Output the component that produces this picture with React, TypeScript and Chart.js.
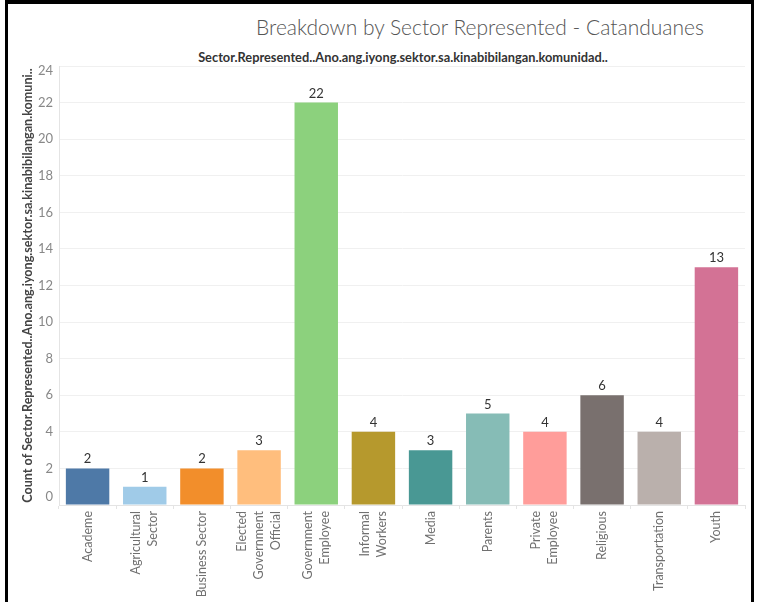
import React, { useEffect, useRef } from 'react';
import { Chart, registerables } from 'chart.js';

Chart.register(...registerables);

const categories: string[][] = [
  ['Academe'],
  ['Agricultural', 'Sector'],
  ['Business Sector'],
  ['Elected', 'Government', 'Official'],
  ['Government', 'Employee'],
  ['Informal', 'Workers'],
  ['Media'],
  ['Parents'],
  ['Private', 'Employee'],
  ['Religious'],
  ['Transportation'],
  ['Youth'],
];
const counts = [2, 1, 2, 3, 22, 4, 3, 5, 4, 6, 4, 13];
const barColors = [
  '#4e79a7', '#a0cbe8', '#f28e2b', '#ffbe7d', '#8cd17d', '#b6992d',
  '#499894', '#86bcb6', '#ff9d9a', '#79706e', '#bab0ac', '#d37295',
];
const yTickValues = [0, 2, 4, 6, 8, 10, 12, 14, 16, 18, 20, 22, 24];
const titleText = 'Breakdown by Sector Represented - Catanduanes';
const subtitleText = 'Sector.Represented..Ano.ang.iyong.sektor.sa.kinabibilangan.komunidad..';
const yAxisTitle = 'Count of Sector.Represented..Ano.ang.iyong.sektor.sa.kinabibilangan.komuni..';

const FONT = 'Lato, "Open Sans", sans-serif';

const drawPlugin = {
  id: 'tableauLabels',
  afterDraw(chart: any) {
    const ctx = chart.ctx as CanvasRenderingContext2D;
    const xs = chart.scales.x;
    const ys = chart.scales.y;
    ctx.save();
    // y tick labels
    ctx.font = `13px ${FONT}`;
    ctx.fillStyle = '#888888';
    ctx.textAlign = 'right';
    ctx.textBaseline = 'middle';
    const last = yTickValues[yTickValues.length - 1];
    yTickValues.forEach((v) => {
      let y = ys.getPixelForValue(v);
      if (v === 0) y -= 8;
      if (v === last) y += 5;
      ctx.fillText(String(v), ys.right - 6, y);
    });
    // x category labels (rotated, multi-line centred on the tick)
    ctx.font = `12.5px ${FONT}`;
    ctx.fillStyle = '#707070';
    const lh = 17;
    categories.forEach((lines, i) => {
      const x = xs.getPixelForValue(i);
      ctx.save();
      ctx.translate(x, xs.top + 6);
      ctx.rotate(-Math.PI / 2);
      ctx.textAlign = 'right';
      ctx.textBaseline = 'middle';
      lines.forEach((line, j) => {
        ctx.fillText(line, 0, (j - (lines.length - 1) / 2) * lh);
      });
      ctx.restore();
    });
    // value labels above bars
    ctx.font = `13px ${FONT}`;
    ctx.fillStyle = '#333333';
    ctx.textAlign = 'center';
    ctx.textBaseline = 'alphabetic';
    const meta = chart.getDatasetMeta(0);
    meta.data.forEach((bar: any, i: number) => {
      ctx.fillText(String(counts[i]), bar.x, bar.y - 5);
    });
    ctx.restore();
  },
};

export default function App() {
  const ref = useRef<HTMLCanvasElement>(null);
  useEffect(() => {
    document.body.style.margin = '0';
    const chart = new Chart(ref.current!, {
      type: 'bar',
      data: {
        labels: categories.map((c) => c.join(' ')),
        datasets: [
          {
            data: counts,
            backgroundColor: barColors,
            borderWidth: 0,
            barPercentage: 0.76,
            categoryPercentage: 1,
          },
        ],
      },
      options: {
        animation: false,
        responsive: false,
        layout: { padding: { top: 66, right: 17, left: 0, bottom: 0 } },
        plugins: {
          legend: { display: false },
          tooltip: { enabled: false },
          title: { display: false },
        },
        scales: {
          x: {
            grid: {
              display: true,
              drawOnChartArea: false,
              tickLength: 4,
              color: '#e4e4e4',
              offset: true,
            },
            border: { color: '#e4e4e4' },
            ticks: { display: false },
            afterFit: (s: any) => {
              s.height = 97;
            },
          },
          y: {
            min: 0,
            max: 24,
            ticks: { display: false, stepSize: 2 },
            grid: { color: '#f0f0f0', drawTicks: false },
            border: { color: '#e4e4e4' },
            title: {
              display: true,
              text: yAxisTitle,
              color: '#444444',
              font: { family: FONT, size: 12.6, weight: 'bold' },
              padding: { top: 20, bottom: 0 },
            },
            afterFit: (s: any) => {
              s.width = 59;
            },
          },
        },
      } as any,
      plugins: [drawPlugin],
    });
    return () => chart.destroy();
  }, []);

  return (
    <div style={{ position: 'fixed', left: 0, top: 0, width: 762, height: 602, background: '#fff', overflow: 'hidden' }}>
      <div
        style={{
          position: 'absolute',
          left: 5,
          top: 0,
          width: 749,
          height: 602,
          borderLeft: '3px solid #000',
          borderRight: '3px solid #000',
          borderTop: '4px solid #000',
          boxSizing: 'border-box',
        }}
      />
      <div
        style={{
          position: 'absolute',
          left: 0,
          width: 960,
          top: 13,
          textAlign: 'center',
          font: `300 21px ${FONT}`,
          color: '#555',
          whiteSpace: 'nowrap',
          lineHeight: '28px',
        }}
      >
        {titleText}
      </div>
      <div
        style={{
          position: 'absolute',
          left: 0,
          width: 806,
          top: 49,
          textAlign: 'center',
          font: `bold 12.8px ${FONT}`,
          color: '#333',
          whiteSpace: 'nowrap',
          lineHeight: '16px',
        }}
      >
        {subtitleText}
      </div>
      <canvas
        ref={ref}
        width={762}
        height={602}
        style={{ position: 'absolute', left: 0, top: 0, width: 762, height: 602 }}
      />
    </div>
  );
}
